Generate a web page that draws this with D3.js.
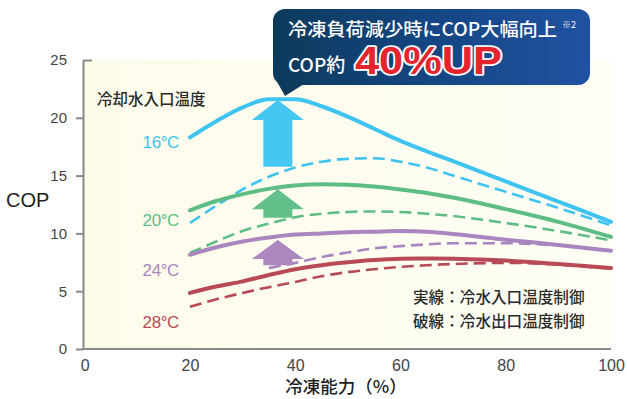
<!DOCTYPE html>
<html>
<head>
<meta charset="utf-8">
<script src="https://cdn.jsdelivr.net/npm/d3@7/dist/d3.min.js"></script>
<style>
  html, body { margin: 0; padding: 0; background: #ffffff; }
  svg { display: block; font-family: "Noto Sans CJK JP", "Noto Sans", sans-serif; }
</style>
</head>
<body>
<svg id="chart" width="627" height="399"></svg>
<script>
// 冷凍能力（%）
const capacity = [20, 25, 30, 35, 40, 45, 50, 55, 60, 65, 70, 80, 90, 100];

// 実線：冷水入口温度制御
const inlet16 = [18.3, 19.7, 20.9, 21.6, 21.6, 21.0, 20.1, 19.05, 18.0, 17.1, 16.25, 14.5, 12.75, 11.0];
const inlet20 = [12.0, 12.8, 13.4, 13.85, 14.15, 14.25, 14.2, 14.05, 13.8, 13.5, 13.1, 12.1, 11.0, 9.7];
const inlet24 = [8.15, 8.8, 9.3, 9.65, 9.9, 10.0, 10.1, 10.15, 10.2, 10.15, 9.95, 9.45, 9.0, 8.5];
const inlet28 = [4.85, 5.4, 5.85, 6.4, 6.9, 7.25, 7.5, 7.7, 7.8, 7.82, 7.8, 7.65, 7.35, 7.0];

// 破線：冷水出口温度制御
const outlet16 = [10.9, 12.4, 13.8, 14.9, 15.7, 16.2, 16.45, 16.5, 16.2, 15.7, 15.0, 13.6, 12.2, 10.7];
const outlet20 = [8.3, 9.3, 10.2, 10.85, 11.4, 11.7, 11.85, 11.9, 11.85, 11.7, 11.5, 10.9, 10.2, 9.4];
const outlet24 = [null, null, null, 7.0, 7.45, 7.95, 8.35, 8.7, 8.9, 9.05, 9.15, 9.15, 8.95, 8.5];
const outlet28 = [3.65, 4.3, 4.85, 5.35, 5.8, 6.3, 6.65, 6.9, 7.1, 7.25, 7.35, 7.45, 7.3, 6.95];

const tempLabels = ["16°C", "20°C", "24°C", "28°C"];
const labelCop = [17.4, 10.6, 6.3, 1.8];
const colors = ["#3fc3f0", "#5dbd85", "#a986bf", "#b84a56"];

// 改善幅を示す矢印（能力・始点COP・終点COP）
const arrowAt = [36.7, 36.7, 36.7];
const arrowFrom = [15.77, 11.36, 7.24];
const arrowTo = [21.55, 13.82, 9.43];
const arrowColors = ["#46c7f2", "#64c08a", "#ad87bf"];

const xTicks = [0, 20, 40, 60, 80, 100];
const yTicks = [0, 5, 10, 15, 20, 25];

const svg = d3.select("#chart");
const x = d3.scaleLinear().domain([0, 100]).range([84.7, 611]);
const y = d3.scaleLinear().domain([0, 25]).range([349, 60]);
const axisX = 83;

// plot background
const defs = svg.append("defs");
const bg = defs.append("linearGradient").attr("id", "bg").attr("x1", "0").attr("x2", "1");
bg.append("stop").attr("offset", "0").attr("stop-color", "#fdfbea");
bg.append("stop").attr("offset", "1").attr("stop-color", "#fefef5");
svg.append("rect")
  .attr("x", axisX).attr("y", y(25))
  .attr("width", x(100) - axisX).attr("height", y(0) - y(25))
  .attr("fill", "url(#bg)");

// axes
const yAxis = d3.axisLeft(y).tickValues(yTicks).tickSize(7).tickSizeOuter(0).tickPadding(9);
const gy = svg.append("g").attr("transform", `translate(${axisX},0)`).call(yAxis);
gy.select(".domain").attr("stroke", "#8a8a8a").attr("stroke-width", 2);
gy.selectAll(".tick line").attr("stroke", "#8a8a8a").attr("stroke-width", 2)
  .filter(d => d === 25).attr("x2", 9);
gy.selectAll(".tick text").attr("font-size", 15).attr("fill", "#444")
  .attr("font-family", "'Liberation Sans', sans-serif").attr("x", -16);

const xAxis = d3.axisBottom(x).tickValues(xTicks).tickSize(0).tickSizeOuter(0).tickPadding(11);
const gx = svg.append("g").attr("transform", `translate(0,${y(0)})`).call(xAxis);
gx.select(".domain").attr("stroke", "#8a8a8a").attr("stroke-width", 2)
  .attr("d", `M${axisX - 1},0H${x(100)}`);
gx.selectAll(".tick text").attr("font-size", 16).attr("fill", "#444")
  .attr("font-family", "'Liberation Sans', sans-serif");

// curves
const line = d3.line()
  .defined(d => d[1] != null)
  .x(d => x(d[0])).y(d => y(d[1]))
  .curve(d3.curveMonotoneX);
const pts = vals => capacity.map((c, i) => [c, vals[i]]);

const outlets = [outlet16, outlet20, outlet24, outlet28];
const inlets = [inlet16, inlet20, inlet24, inlet28];

outlets.forEach((v, i) => {
  svg.append("path").attr("d", line(pts(v)))
    .attr("fill", "none").attr("stroke", colors[i])
    .attr("stroke-width", 2.6).attr("stroke-dasharray", "12,6")
    .attr("stroke-linecap", "butt");
});
inlets.forEach((v, i) => {
  svg.append("path").attr("d", line(pts(v)))
    .attr("fill", "none").attr("stroke", colors[i])
    .attr("stroke-width", 4).attr("stroke-linecap", "round");
});

// arrows
arrowAt.forEach((a, i) => {
  const cx = x(a), yb = y(arrowFrom[i]), yt = y(arrowTo[i]);
  const hw = 26, sw = 14.5, hl = Math.min(20, (yb - yt) * 0.75);
  const p = d3.path();
  p.moveTo(cx, yt);
  p.lineTo(cx + hw, yt + hl);
  p.lineTo(cx + sw, yt + hl);
  p.lineTo(cx + sw, yb);
  p.lineTo(cx - sw, yb);
  p.lineTo(cx - sw, yt + hl);
  p.lineTo(cx - hw, yt + hl);
  p.closePath();
  svg.append("path").attr("d", p.toString()).attr("fill", arrowColors[i]);
});

// temperature labels
tempLabels.forEach((t, i) => {
  svg.append("text").attr("x", 179).attr("y", y(labelCop[i]))
    .attr("text-anchor", "end").attr("font-size", 17)
    .attr("font-family", "'Liberation Sans', sans-serif")
    .attr("letter-spacing", -0.4)
    .attr("fill", colors[i]).text(t);
});

svg.append("text").attr("x", 97).attr("y", 105)
  .attr("font-size", 15.5).attr("font-weight", 500).attr("fill", "#2a2a2a")
  .text("冷却水入口温度");

// legend notes
svg.append("text").attr("x", 413).attr("y", 303)
  .attr("font-size", 15.6).attr("font-weight", 500).attr("fill", "#2a2a2a")
  .text("実線：冷水入口温度制御");
svg.append("text").attr("x", 413).attr("y", 327)
  .attr("font-size", 15.6).attr("font-weight", 500).attr("fill", "#2a2a2a")
  .text("破線：冷水出口温度制御");

// axis titles
svg.append("text").attr("x", 6).attr("y", 207)
  .attr("font-size", 20).attr("font-weight", 500).attr("fill", "#222")
  .attr("font-family", "'Liberation Sans', sans-serif")
  .text("COP");
svg.append("text").attr("x", 346).attr("y", 393).attr("text-anchor", "middle")
  .attr("font-size", 17.5).attr("font-weight", 500).attr("fill", "#1e1e1e")
  .text("冷凍能力（%）");

// callout
const cg = defs.append("linearGradient").attr("id", "callout").attr("x1", "0").attr("x2", "1");
cg.append("stop").attr("offset", "0").attr("stop-color", "#0c3a5b");
cg.append("stop").attr("offset", "0.5").attr("stop-color", "#144683");
cg.append("stop").attr("offset", "1").attr("stop-color", "#2152a2");
const callout = svg.append("g");
callout.append("rect").attr("x", 273).attr("y", 9).attr("width", 317).attr("height", 76)
  .attr("rx", 12).attr("fill", "url(#callout)");
callout.append("path").attr("d", "M276,80L304,84L285,96Z").attr("fill", "#0c3a5b");

callout.append("text").attr("x", 288).attr("y", 35.5)
  .attr("font-size", 18.5).attr("font-weight", 500).attr("fill", "#fff")
  .attr("textLength", 269).attr("lengthAdjust", "spacingAndGlyphs")
  .text("冷凍負荷減少時にCOP大幅向上");
callout.append("text").attr("x", 562).attr("y", 28)
  .attr("font-size", 9).attr("fill", "#fff").text("※2");
callout.append("text").attr("x", 288).attr("y", 72)
  .attr("font-size", 19).attr("font-weight", 500).attr("fill", "#fff")
  .text("COP約");
callout.append("text").attr("x", 355).attr("y", 74)
  .attr("font-size", 38).attr("font-weight", 900).attr("fill", "#e6242d")
  .attr("font-family", "'Liberation Sans', 'Noto Sans CJK JP', sans-serif")
  .attr("stroke", "#fff").attr("stroke-width", 3.5).attr("stroke-linejoin", "round")
  .attr("paint-order", "stroke")
  .attr("textLength", 147).attr("lengthAdjust", "spacingAndGlyphs")
  .text("40%UP");
</script>
</body>
</html>
